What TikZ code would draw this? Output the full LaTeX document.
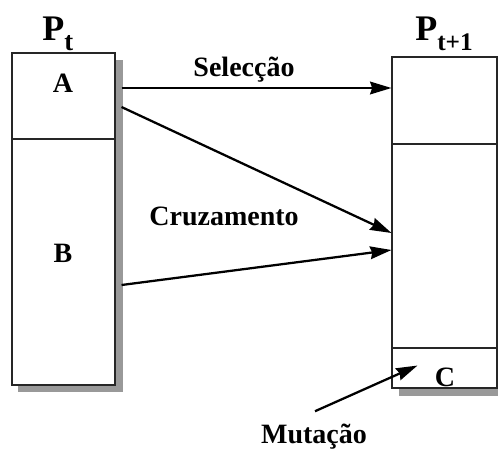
\documentclass[tikz,border=0pt]{standalone}
\usepackage{fontspec}
\setmainfont{Liberation Serif}
\usetikzlibrary{arrows.meta,fit,calc}
\definecolor{shadowgrey}{HTML}{999999}
\begin{document}
\begin{tikzpicture}[x=0.75pt,y=-0.75pt,
  compartment/.style={draw=black!85, line width=0.8pt, inner sep=0pt, fill=white},
  boxshade/.style={fill=shadowgrey},
  lbl/.style={font=\bfseries\fontsize{21}{21}\selectfont, inner sep=0pt, anchor=base},
  title/.style={font=\bfseries\fontsize{27}{27}\selectfont, inner sep=0pt, anchor=base west},
  flow/.style={line width=1.7pt, -{Stealth[length=16pt,width=9.5pt,inset=1.5pt]}},
]
\useasboundingbox (0,0) rectangle (498,450);

% drop shadows of the two populations
\fill[boxshade] (18,60) rectangle (123,392);
\fill[boxshade] (399,64) rectangle (505,396);

% population P_t
\node[compartment, fit={(12,53) (115,139)}] (a) {};
\node[compartment, fit={(12,139) (115,385)}] (b) {};

% population P_{t+1}
\node[compartment, fit={(392,57) (497,144)}] (r1) {};
\node[compartment, fit={(392,144) (497,348)}] (r2) {};
\node[compartment, fit={(392,348) (497,388)}] (c) {};

% titles
\node[title] (pt) at (42,40) {P\raisebox{-7.5pt}{\fontsize{20}{20}\selectfont t}};
\node[title] (pt1) at (415,40) {P\raisebox{-7.5pt}{\fontsize{19}{19}\selectfont t+1}};

% compartment labels
\node[lbl] (la) at (63,92) {A};
\node[lbl] (lb) at (63,262) {B};
\node[lbl] (lc) at (445,386) {C};

% operator labels
\node[lbl] (sel) at (244,76) {Selecção};
\node[lbl] (cruz) at (224,225) {Cruzamento};
\node[lbl] (mut) at (314,443) {Mutação};

% operators
\draw[flow] ($(a.east)+(6,-8)$) -- ($(r1.west)+(0,-12.5)$);
\draw[flow] ($(a.east)+(6,11)$) -- ($(r2.west)+(0,-13)$);
\draw[flow] ($(b.east)+(6,23)$) -- ($(r2.west)+(0,4)$);
\coordinate (mtail) at ($(mut.north)+(1,-12)$);
\draw[flow] (mtail) -- ($(c.south west)+(26,-23)$);
\end{tikzpicture}
\end{document}
